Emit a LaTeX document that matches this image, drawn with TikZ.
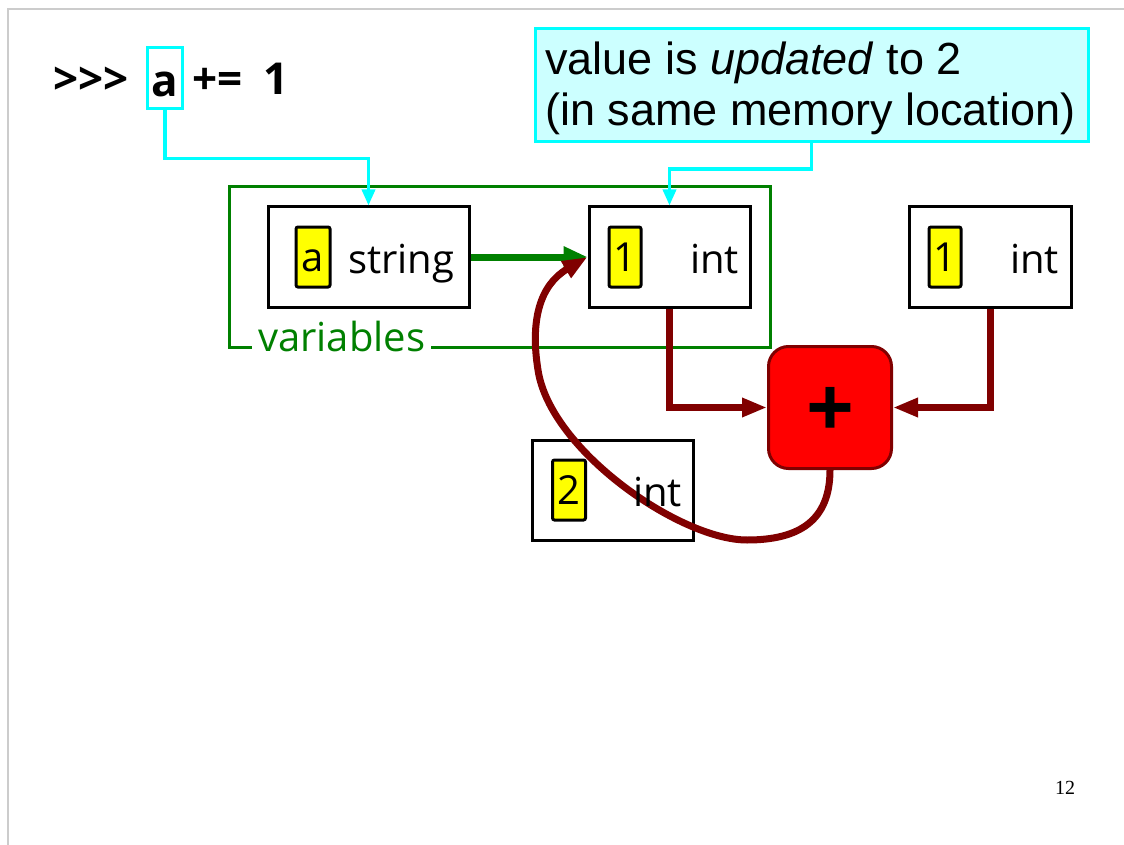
\documentclass[tikz,border=0pt]{standalone}
\usepackage{fontspec}
\setmainfont{Open Sans}
\newfontfamily\calloutfont{Liberation Sans}
\newfontfamily\pagefont{Liberation Serif}
\usetikzlibrary{arrows.meta}
\definecolor{linkcyan}{HTML}{00FFFF}
\definecolor{calloutfill}{HTML}{CCFFFF}
\definecolor{vargreen}{HTML}{008000}
\definecolor{opred}{HTML}{800000}
\definecolor{opfill}{HTML}{FF0000}
\definecolor{valyellow}{HTML}{FFFF00}
\definecolor{slideedge}{HTML}{CCCCCC}

\begin{document}
\begin{tikzpicture}[x=1pt,y=-1pt,
  txt/.style={inner sep=0pt, anchor=base west, font=\fontsize{40}{48}\selectfont},
  codetxt/.style={inner sep=0pt, anchor=base west, font=\fontsize{44}{52}\selectfont\bfseries},
  objbox/.style={draw=black, line width=3pt, fill=white, inner sep=0pt, minimum height=100pt},
  valbox/.style={draw=black, line width=3pt, fill=valyellow, rounded corners=2pt, inner sep=0pt,
    minimum height=60pt, text height=29pt, text depth=0pt, font=\fontsize{40}{48}\selectfont},
  namebox/.style={draw=linkcyan, line width=3pt, inner sep=0pt, minimum width=35pt, minimum height=61pt,
    text height=36pt, text depth=0pt, font=\fontsize{44}{52}\selectfont\bfseries},
  pointer/.style={linkcyan, line width=3.5pt, -{Triangle[length=16pt,width=13pt]}},
  binding/.style={vargreen, line width=7pt, -{Triangle[length=24pt,width=20pt]}},
  dataflow/.style={opred, line width=7pt, -{Triangle[length=25pt,width=18pt]}},
  opbox/.style={draw=opred, fill=opfill, line width=3pt, rounded corners=20pt, inner sep=0pt,
    minimum width=123pt, minimum height=122pt, text height=60pt, text depth=0pt,
    font=\fontsize{84}{90}\selectfont\bfseries},
]
% page
\fill[white] (0,0) rectangle (1124,845);
\useasboundingbox (0,0) rectangle (1124,845);
\draw[slideedge, line width=1.5pt] (8,845) -- (8,9) -- (1124,9);

% statement
\node[codetxt] (prompt) at (53,95) {>{}>{}>};
\node[namebox] (codeA) at (165,78.5) {a};
\node[codetxt] (plusEq) at (192,95) {+=};
\node[codetxt] (one) at (263,95) {1};

% callout
\node[draw=linkcyan, fill=calloutfill, line width=3pt, minimum width=553pt, minimum height=113pt,
  inner sep=0pt] (callout) at (811.5,85) {};
\node[inner sep=0pt, anchor=base west, font=\calloutfont\fontsize{45}{51}\selectfont]
  (callA) at (545,75) {value is \textit{updated} to 2};
\node[inner sep=0pt, anchor=base west, font=\calloutfont\fontsize{45}{51}\selectfont]
  (callB) at (545,126) {(in same memory location)};

% variables frame
\draw[vargreen, line width=3pt] (229,347) rectangle (770,187);
\node[txt, text=vargreen, fill=white, inner xsep=6pt, inner ysep=0pt] (varlabel) at (252,351) {variables};

% objects
\node[objbox, minimum width=201pt] (strbox) at (368.5,257) {};
\node[valbox, minimum width=34pt] (strval) at (313,257) {a};
\node[txt] (strtype) at (348,273) {string};

\node[objbox, minimum width=161pt] (intbox) at (669.5,257) {};
\node[valbox, minimum width=32pt] (intval) at (625,257) {1};
\node[txt] (inttype) at (690,273) {int};

\node[objbox, minimum width=162pt] (rint) at (990,257) {};
\node[valbox, minimum width=32pt] (rval) at (945,257) {1};
\node[txt] (rtype) at (1010,273) {int};

\node[objbox, minimum width=161pt] (newint) at (612.5,490) {};
\node[valbox, minimum width=33pt] (newval) at (569,490) {2};

% operator
\node[opbox] (plus) at (830,407.5) {+};

% name links
\draw[pointer] (codeA.south) -- ++(0,48) -| (strbox.north);
\draw[pointer] (callout.south) -- ++(0,26) -| (intbox.north);

% binding
\draw[binding] (strbox.east) -- (intbox.west);

% operands into the operator
\draw[dataflow] (intbox.south) |- (plus.west);
\draw[dataflow] (rint.south) |- (plus.east);

% result written back
\draw[dataflow] (plus.south) .. controls (830,520) and (800,540) .. (747,540)
  .. controls (680,540) and (550,450) .. (538,370)
  .. controls (530,320) and (540,285) .. (intbox.west);

% type label drawn over the result curve
\node[txt] (newtype) at (633,506) {int};

% page number
\node[inner sep=0pt, anchor=base, font=\pagefont\fontsize{20}{24}\selectfont] (pagenum) at (1065,794) {12};
\end{tikzpicture}
\end{document}
